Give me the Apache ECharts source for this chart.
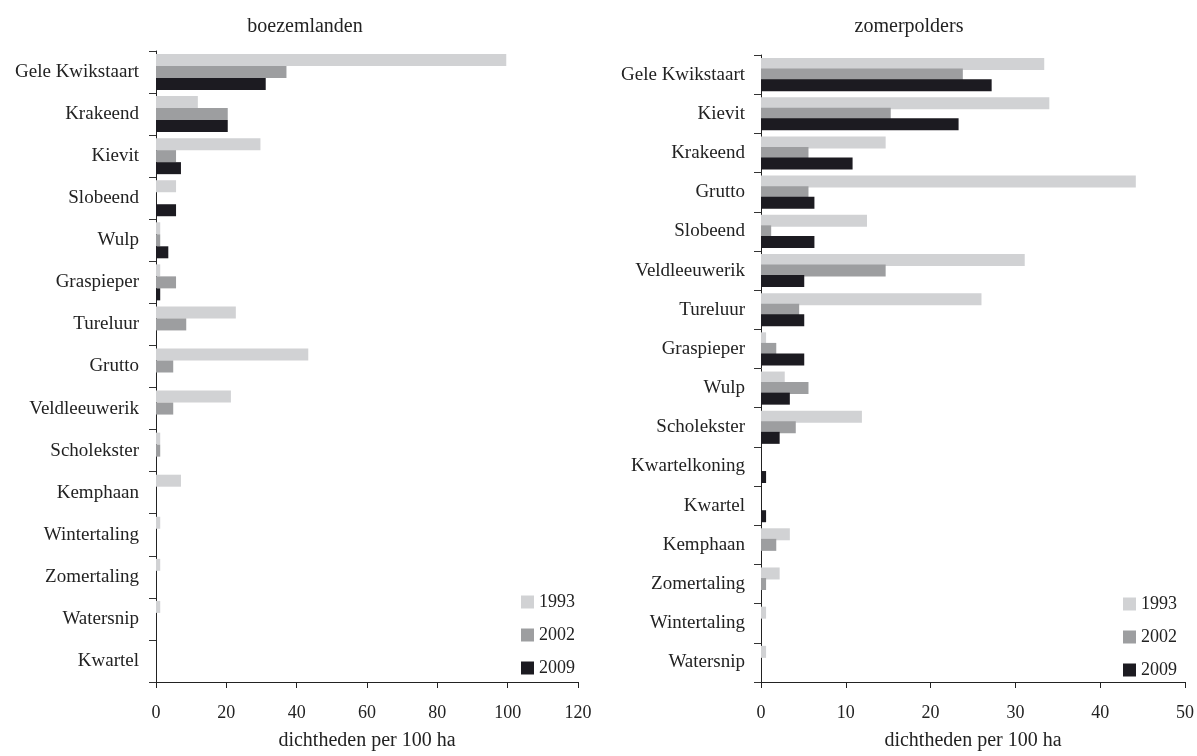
<!DOCTYPE html>
<html>
<head>
<meta charset="utf-8">
<title>dichtheden per 100 ha</title>
<script src="https://cdn.jsdelivr.net/npm/echarts@6/dist/echarts.min.js"></script>
<style>
  html, body { margin: 0; padding: 0; background: #fff; }
  #chart { width: 1197px; height: 756px; }
</style>
</head>
<body>
<div id="chart"></div>
<script>
// Broedvogeldichtheden per 100 ha, per soort en per jaar
const years = ['1993', '2002', '2009'];

// boezemlanden
const boezemSoorten = ['Gele Kwikstaart', 'Krakeend', 'Kievit', 'Slobeend', 'Wulp', 'Graspieper',
  'Tureluur', 'Grutto', 'Veldleeuwerik', 'Scholekster', 'Kemphaan', 'Wintertaling',
  'Zomertaling', 'Watersnip', 'Kwartel'];
const boezem1993 = [99.6, 11.9, 29.7, 5.7, 1.2, 1.2, 22.7, 43.3, 21.3, 1.2, 7.1, 1.2, 1.2, 1.2, 0];
const boezem2002 = [37.1, 20.4, 5.7, 0, 1.2, 5.7, 8.6, 4.9, 4.9, 1.2, 0, 0, 0, 0, 0];
const boezem2009 = [31.2, 20.4, 7.1, 5.7, 3.5, 1.2, 0, 0, 0, 0, 0, 0, 0, 0, 0];
const boezemTicks = [0, 20, 40, 60, 80, 100, 120];

// zomerpolders
const zomerSoorten = ['Gele Kwikstaart', 'Kievit', 'Krakeend', 'Grutto', 'Slobeend', 'Veldleeuwerik',
  'Tureluur', 'Graspieper', 'Wulp', 'Scholekster', 'Kwartelkoning', 'Kwartel', 'Kemphaan',
  'Zomertaling', 'Wintertaling', 'Watersnip'];
const zomer1993 = [33.4, 34.0, 14.7, 44.2, 12.5, 31.1, 26.0, 0.6, 2.8, 11.9, 0, 0, 3.4, 2.2, 0.6, 0.6];
const zomer2002 = [23.8, 15.3, 5.6, 5.6, 1.2, 14.7, 4.5, 1.8, 5.6, 4.1, 0, 0, 1.8, 0.6, 0, 0];
const zomer2009 = [27.2, 23.3, 10.8, 6.3, 6.3, 5.1, 5.1, 5.1, 3.4, 2.2, 0.6, 0.6, 0, 0, 0, 0];
const zomerTicks = [0, 10, 20, 30, 40, 50];

const colors = ['#d1d2d4', '#9d9ea0', '#1c1b21'];
const serif = "'Liberation Serif', 'Times New Roman', serif";
const ink = '#222';

function valueAxis(gridIndex, ticks) {
  return {
    type: 'value', gridIndex,
    min: ticks[0], max: ticks[ticks.length - 1], interval: ticks[1] - ticks[0],
    name: 'dichtheden per 100 ha', nameLocation: 'middle', nameGap: 49,
    nameTextStyle: { fontFamily: serif, fontSize: 20, color: ink },
    axisLine: { show: true, lineStyle: { color: ink, width: 1 } },
    axisTick: { show: true, length: 6, lineStyle: { color: ink } },
    axisLabel: { fontFamily: serif, fontSize: 18, color: ink, margin: 22 },
    splitLine: { show: false }
  };
}

function categoryAxis(gridIndex, names, margin) {
  return {
    type: 'category', gridIndex, data: names, inverse: true,
    axisLine: { show: true, lineStyle: { color: ink, width: 1 } },
    axisTick: { show: true, length: 7, lineStyle: { color: '#333' } },
    axisLabel: { fontFamily: serif, fontSize: 19, color: ink, margin }
  };
}

function barSeries(axisIndex, values, barGap) {
  return values.map((v, i) => ({
    name: years[i], type: 'bar',
    xAxisIndex: axisIndex, yAxisIndex: axisIndex,
    data: v, barWidth: 12, barGap,
    itemStyle: { color: colors[i] },
    animation: false
  }));
}

function legendAt(left, top) {
  return {
    data: years, orient: 'vertical', left, top,
    icon: 'rect', itemWidth: 13, itemHeight: 13, itemGap: 15,
    textStyle: { fontFamily: serif, fontSize: 18, color: ink, lineHeight: 18 },
    selectedMode: false
  };
}

const chart = echarts.init(document.getElementById('chart'));
chart.setOption({
  backgroundColor: '#fff',
  color: colors,
  title: [
    { text: 'boezemlanden', left: 300, top: 12, textAlign: 'center',
      textStyle: { fontFamily: serif, fontSize: 20, fontWeight: 'normal', color: ink } },
    { text: 'zomerpolders', left: 904, top: 12, textAlign: 'center',
      textStyle: { fontFamily: serif, fontSize: 20, fontWeight: 'normal', color: ink } }
  ],
  legend: [legendAt(516, 588), legendAt(1118, 590)],
  grid: [
    { left: 156, top: 51, width: 422, height: 632 },
    { left: 761, top: 55, width: 425, height: 629 }
  ],
  xAxis: [valueAxis(0, boezemTicks), valueAxis(1, zomerTicks)],
  yAxis: [categoryAxis(0, boezemSoorten, 17), categoryAxis(1, zomerSoorten, 16)],
  series: [
    ...barSeries(0, [boezem1993, boezem2002, boezem2009], '0%'),
    ...barSeries(1, [zomer1993, zomer2002, zomer2009], '-12%')
  ]
});
</script>
</body>
</html>
